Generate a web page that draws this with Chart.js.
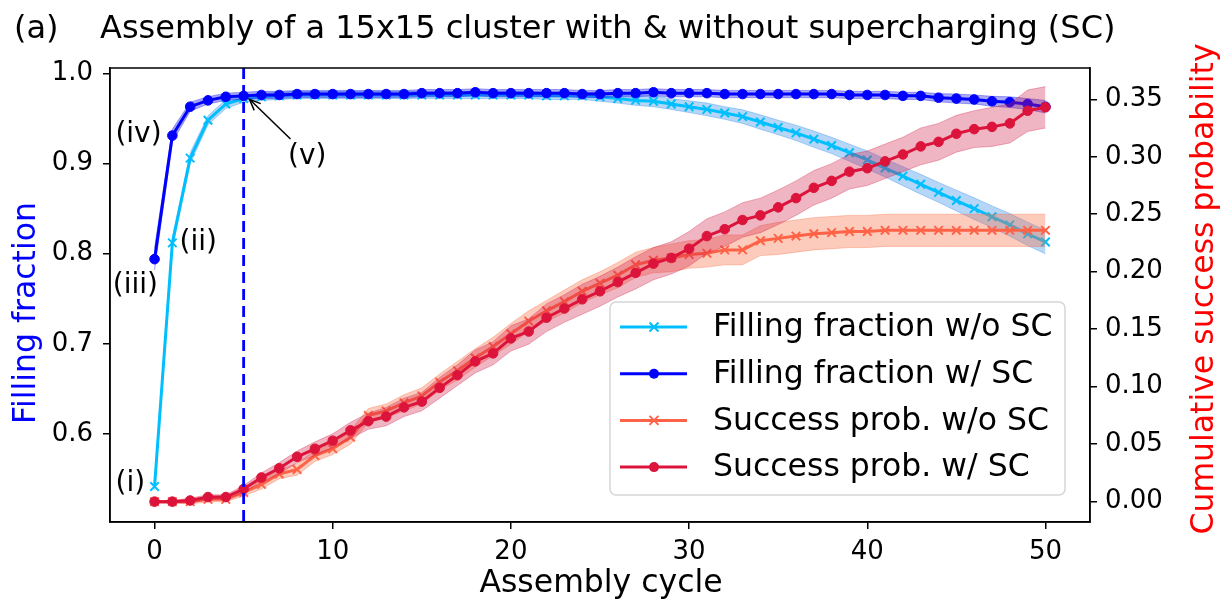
<!DOCTYPE html>
<html>
<head>
<meta charset="utf-8">
<script src="https://cdn.jsdelivr.net/npm/chart.js@4.4.1/dist/chart.umd.min.js"></script>
<style>
  html, body { margin: 0; padding: 0; background: #fff; }
  #wrap { width: 1230px; height: 600px; }
</style>
</head>
<body>
<div id="wrap"><canvas id="chart" width="1230" height="600"></canvas></div>
<script>
// assembly cycles 0..50
const cycles = [0,1,2,3,4,5,6,7,8,9,10,11,12,13,14,15,16,17,18,19,20,21,22,23,24,25,
  26,27,28,29,30,31,32,33,34,35,36,37,38,39,40,41,42,43,44,45,46,47,48,49,50];

// filling fraction (left axis)
const fillNoSC = [0.542,0.812,0.906,0.948,0.966,0.972,0.974,0.975,0.976,0.976,0.976,0.976,0.976,
  0.976,0.976,0.976,0.976,0.976,0.976,0.976,0.976,0.976,0.975,0.975,0.975,0.974,0.972,0.970,0.969,
  0.966,0.963,0.960,0.956,0.952,0.946,0.940,0.934,0.927,0.920,0.912,0.904,0.895,0.886,0.877,0.868,
  0.859,0.850,0.841,0.832,0.822,0.813];
const fillNoSCErr = [0.004,0.006,0.006,0.005,0.005,0.004,0.004,0.004,0.004,0.004,0.004,0.004,0.004,
  0.004,0.004,0.004,0.004,0.004,0.004,0.004,0.004,0.004,0.004,0.004,0.004,0.005,0.005,0.0055,0.006,
  0.006,0.0065,0.007,0.007,0.0075,0.008,0.008,0.0085,0.009,0.009,0.0095,0.010,0.010,0.0105,0.011,
  0.011,0.0115,0.012,0.012,0.0125,0.013,0.013];
const fillSC = [0.794,0.931,0.963,0.970,0.974,0.975,0.976,0.976,0.977,0.977,0.977,0.977,0.977,
  0.977,0.977,0.978,0.978,0.978,0.979,0.978,0.978,0.978,0.978,0.978,0.977,0.977,0.978,0.978,0.979,
  0.978,0.978,0.978,0.977,0.977,0.977,0.977,0.977,0.977,0.977,0.976,0.976,0.976,0.975,0.975,0.973,
  0.972,0.971,0.969,0.968,0.966,0.963];
const fillSCErr = [0.012,0.007,0.005,0.004,0.004,0.004,0.004,0.004,0.004,0.004,0.004,0.004,0.004,
  0.004,0.004,0.004,0.004,0.004,0.004,0.004,0.004,0.004,0.004,0.004,0.004,0.004,0.004,0.004,0.004,
  0.004,0.004,0.004,0.004,0.004,0.004,0.004,0.004,0.004,0.004,0.004,0.004,0.004,0.004,0.004,0.0045,
  0.005,0.005,0.0055,0.006,0.006,0.007];

// cumulative success probability (right axis)
const probNoSC = [0.000,0.000,0.000,0.002,0.002,0.008,0.015,0.024,0.028,0.040,0.046,0.056,0.075,
  0.079,0.086,0.092,0.104,0.114,0.125,0.135,0.146,0.157,0.166,0.174,0.183,0.190,0.197,0.206,0.210,
  0.212,0.215,0.216,0.219,0.219,0.227,0.229,0.231,0.233,0.234,0.235,0.235,0.236,0.236,0.236,0.236,
  0.236,0.236,0.236,0.236,0.236,0.236];
const probNoSCErr = [0.001,0.001,0.002,0.002,0.002,0.003,0.004,0.004,0.005,0.005,0.005,0.006,0.006,
  0.006,0.007,0.007,0.007,0.008,0.008,0.008,0.009,0.009,0.009,0.010,0.010,0.010,0.011,0.011,0.011,
  0.012,0.012,0.012,0.013,0.013,0.013,0.014,0.014,0.014,0.014,0.014,0.014,0.014,0.014,0.014,0.014,
  0.014,0.014,0.014,0.014,0.014,0.014];
const probSC = [0.000,0.000,0.001,0.004,0.004,0.011,0.021,0.029,0.039,0.046,0.053,0.062,0.070,
  0.074,0.082,0.087,0.099,0.110,0.122,0.129,0.142,0.148,0.160,0.168,0.176,0.183,0.191,0.199,0.207,
  0.212,0.220,0.231,0.237,0.245,0.249,0.256,0.264,0.273,0.279,0.287,0.290,0.296,0.302,0.309,0.313,
  0.320,0.324,0.326,0.329,0.340,0.343];
const probSCErr = [0.001,0.001,0.002,0.002,0.002,0.003,0.004,0.005,0.005,0.006,0.006,0.007,0.007,
  0.008,0.008,0.008,0.009,0.009,0.010,0.010,0.011,0.011,0.012,0.012,0.013,0.013,0.013,0.014,0.014,
  0.014,0.015,0.015,0.015,0.015,0.015,0.015,0.015,0.015,0.015,0.015,0.015,0.015,0.015,0.016,0.016,
  0.016,0.016,0.017,0.017,0.018,0.018];

const xTicks = [0,10,20,30,40,50];
const fillTicks = [0.6,0.7,0.8,0.9,1.0];
const probTicks = [0,0.05,0.10,0.15,0.20,0.25,0.30,0.35];

// text labels placed at data coordinates (left axis)
const notes = [
  { text: '(i)', x: -1.36, y: 0.5447 },
  { text: '(ii)', x: 2.45, y: 0.8119 },
  { text: '(iii)', x: -1.08, y: 0.7642 },
  { text: '(iv)', x: -0.9, y: 0.9316 },
  { text: '(v)', x: 8.57, y: 0.9072 }
];
const arrowFrom = { x: 7.63, y: 0.9272 };
const arrowTo = { x: 5.33, y: 0.9712 };

const FONT = '"DejaVu Sans", "Liberation Sans", sans-serif';
Chart.defaults.color = '#000';
Chart.defaults.font.family = FONT;

function pts(vals) {
  return cycles.map((c, i) => ({ x: c, y: vals[i] }));
}
function bandPts(vals, errs, sign) {
  return cycles.map((c, i) => ({ x: c, y: vals[i] + sign * errs[i] }));
}

function series(label, vals, errs, color, band, axis, style, order) {
  const round = style === 'circle';
  return [
    { data: bandPts(vals, errs, 1), yAxisID: axis, borderColor: band, borderWidth: 1,
      pointRadius: 0, fill: false, order: order + 2 },
    { data: bandPts(vals, errs, -1), yAxisID: axis, borderColor: band, borderWidth: 1,
      pointRadius: 0, fill: '-1', backgroundColor: band, order: order + 1 },
    { label: label, data: pts(vals), yAxisID: axis, borderColor: color, backgroundColor: color,
      borderWidth: 3, pointStyle: style, pointRadius: round ? 4.8 : 6,
      pointBorderWidth: round ? 1 : 2, pointBorderColor: color, pointBackgroundColor: color,
      fill: false, order: order }
  ];
}

const legendItems = [
  { label: 'Filling fraction w/o SC', color: '#00bfff', style: 'cross' },
  { label: 'Filling fraction w/ SC', color: '#0000ff', style: 'circle' },
  { label: 'Success prob. w/o SC', color: '#ff6347', style: 'cross' },
  { label: 'Success prob. w/ SC', color: '#dc143c', style: 'circle' }
];

function drawMarker(ctx, style, x, y, color) {
  ctx.save();
  ctx.strokeStyle = color; ctx.fillStyle = color;
  if (style === 'circle') {
    ctx.beginPath(); ctx.arc(x, y, 5, 0, Math.PI * 2); ctx.fill();
  } else {
    ctx.lineWidth = 2;
    const r = 4.5;
    ctx.beginPath();
    ctx.moveTo(x - r, y - r); ctx.lineTo(x + r, y + r);
    ctx.moveTo(x - r, y + r); ctx.lineTo(x + r, y - r);
    ctx.stroke();
  }
  ctx.restore();
}

const decor = {
  id: 'decor',
  afterDatasetsDraw(chart) {
    const { ctx, chartArea: a, scales } = chart;
    const x5 = scales.x.getPixelForValue(5);
    ctx.save();
    ctx.strokeStyle = '#0000ff';
    ctx.lineWidth = 2.8;
    ctx.setLineDash([11, 6]);
    ctx.beginPath(); ctx.moveTo(x5, a.top); ctx.lineTo(x5, a.bottom); ctx.stroke();
    ctx.restore();
  },
  afterDraw(chart) {
    const { ctx, chartArea: a, scales } = chart;
    ctx.save();
    // frame
    ctx.strokeStyle = '#000'; ctx.lineWidth = 1.5;
    ctx.strokeRect(a.left, a.top, a.right - a.left, a.bottom - a.top);

    // title
    ctx.fillStyle = '#000';
    ctx.font = '32px ' + FONT;
    ctx.textBaseline = 'alphabetic'; ctx.textAlign = 'left';
    ctx.fillText('(a)', 14, 38);
    ctx.fillText('Assembly of a 15x15 cluster with & without supercharging (SC)', 100, 38);

    // axis titles
    ctx.font = '31.5px ' + FONT;
    ctx.textAlign = 'center';
    ctx.fillText('Assembly cycle', (a.left + a.right) / 2 + 1, 592);
    ctx.save();
    ctx.translate(35, 313); ctx.rotate(-Math.PI / 2);
    ctx.fillStyle = '#0000ff';
    ctx.fillText('Filling fraction', 0, 0);
    ctx.restore();
    ctx.save();
    ctx.translate(1213, 289); ctx.rotate(-Math.PI / 2);
    ctx.fillStyle = '#ff0000';
    ctx.fillText('Cumulative success probability', 0, 0);
    ctx.restore();

    // annotations
    ctx.font = '28px ' + FONT;
    ctx.textBaseline = 'middle';
    notes.forEach(n => {
      ctx.fillText(n.text, scales.x.getPixelForValue(n.x), scales.y.getPixelForValue(n.y));
    });
    const fx = scales.x.getPixelForValue(arrowFrom.x), fy = scales.y.getPixelForValue(arrowFrom.y);
    const tx = scales.x.getPixelForValue(arrowTo.x), ty = scales.y.getPixelForValue(arrowTo.y);
    ctx.strokeStyle = '#000'; ctx.lineWidth = 1.5;
    ctx.beginPath(); ctx.moveTo(fx, fy); ctx.lineTo(tx, ty); ctx.stroke();
    const ang = Math.atan2(ty - fy, tx - fx), hl = 12;
    ctx.beginPath();
    ctx.moveTo(tx - hl * Math.cos(ang - 0.4), ty - hl * Math.sin(ang - 0.4));
    ctx.lineTo(tx, ty);
    ctx.lineTo(tx - hl * Math.cos(ang + 0.4), ty - hl * Math.sin(ang + 0.4));
    ctx.stroke();

    // legend
    const lx = 610, ly = 302, lw = 455, lh = 193;
    ctx.beginPath();
    ctx.roundRect(lx, ly, lw, lh, 6);
    ctx.fillStyle = 'rgba(255,255,255,0.85)'; ctx.fill();
    ctx.strokeStyle = '#d6d6d6'; ctx.lineWidth = 1.5; ctx.stroke();
    ctx.font = '31.5px ' + FONT;
    ctx.textAlign = 'left'; ctx.textBaseline = 'middle';
    legendItems.forEach((it, i) => {
      const y = 327 + i * 46.7;
      ctx.strokeStyle = it.color; ctx.lineWidth = 3;
      ctx.beginPath(); ctx.moveTo(620, y); ctx.lineTo(687, y); ctx.stroke();
      drawMarker(ctx, it.style, 654, y, it.color);
      ctx.fillStyle = '#000';
      ctx.fillText(it.label, 713, y + 1);
    });
    ctx.restore();
  }
};

const datasets = [].concat(
  series('Filling fraction w/o SC', fillNoSC, fillNoSCErr, '#00bfff', 'rgba(30,130,230,0.33)', 'y', 'crossRot', 40),
  series('Filling fraction w/ SC', fillSC, fillSCErr, '#0000ff', 'rgba(40,40,230,0.4)', 'y', 'circle', 30),
  series('Success prob. w/o SC', probNoSC, probNoSCErr, '#ff6347', 'rgba(250,110,70,0.36)', 'y2', 'crossRot', 20),
  series('Success prob. w/ SC', probSC, probSCErr, '#dc143c', 'rgba(210,30,70,0.33)', 'y2', 'circle', 10)
);

new Chart(document.getElementById('chart'), {
  type: 'line',
  data: { datasets: datasets },
  options: {
    responsive: false,
    animation: false,
    devicePixelRatio: 1,
    layout: { padding: { top: 68, left: 0, right: 0, bottom: 0 } },
    elements: { line: { tension: 0 } },
    plugins: { legend: { display: false }, tooltip: { enabled: false } },
    scales: {
      x: {
        type: 'linear', min: -2.5, max: 52.5,
        afterFit: s => { s.height = 78; },
        afterBuildTicks: s => { s.ticks = xTicks.map(v => ({ value: v })); },
        grid: { drawOnChartArea: false, drawTicks: true, tickLength: 7, color: '#000', lineWidth: 1.5 },
        border: { display: true, color: '#000', width: 1.5 },
        ticks: { font: { size: 26 }, padding: 8, maxRotation: 0, callback: v => String(v) }
      },
      y: {
        type: 'linear', position: 'left', min: 0.5026, max: 1.0059,
        afterFit: s => { s.width = 110; },
        afterBuildTicks: s => { s.ticks = fillTicks.map(v => ({ value: v })); },
        grid: { drawOnChartArea: false, drawTicks: true, tickLength: 7, color: '#000', lineWidth: 1.5 },
        border: { display: true, color: '#000', width: 1.5 },
        ticks: { font: { size: 26 }, padding: 10, callback: v => v.toFixed(1) }
      },
      y2: {
        type: 'linear', position: 'right', min: -0.0177, max: 0.3772,
        afterFit: s => { s.width = 140; },
        afterBuildTicks: s => { s.ticks = probTicks.map(v => ({ value: v })); },
        grid: { drawOnChartArea: false, drawTicks: true, tickLength: 7, color: '#000', lineWidth: 1.5 },
        border: { display: true, color: '#000', width: 1.5 },
        ticks: { font: { size: 26 }, padding: 8, callback: v => v.toFixed(2) }
      }
    }
  },
  plugins: [decor]
});
</script>
</body>
</html>
